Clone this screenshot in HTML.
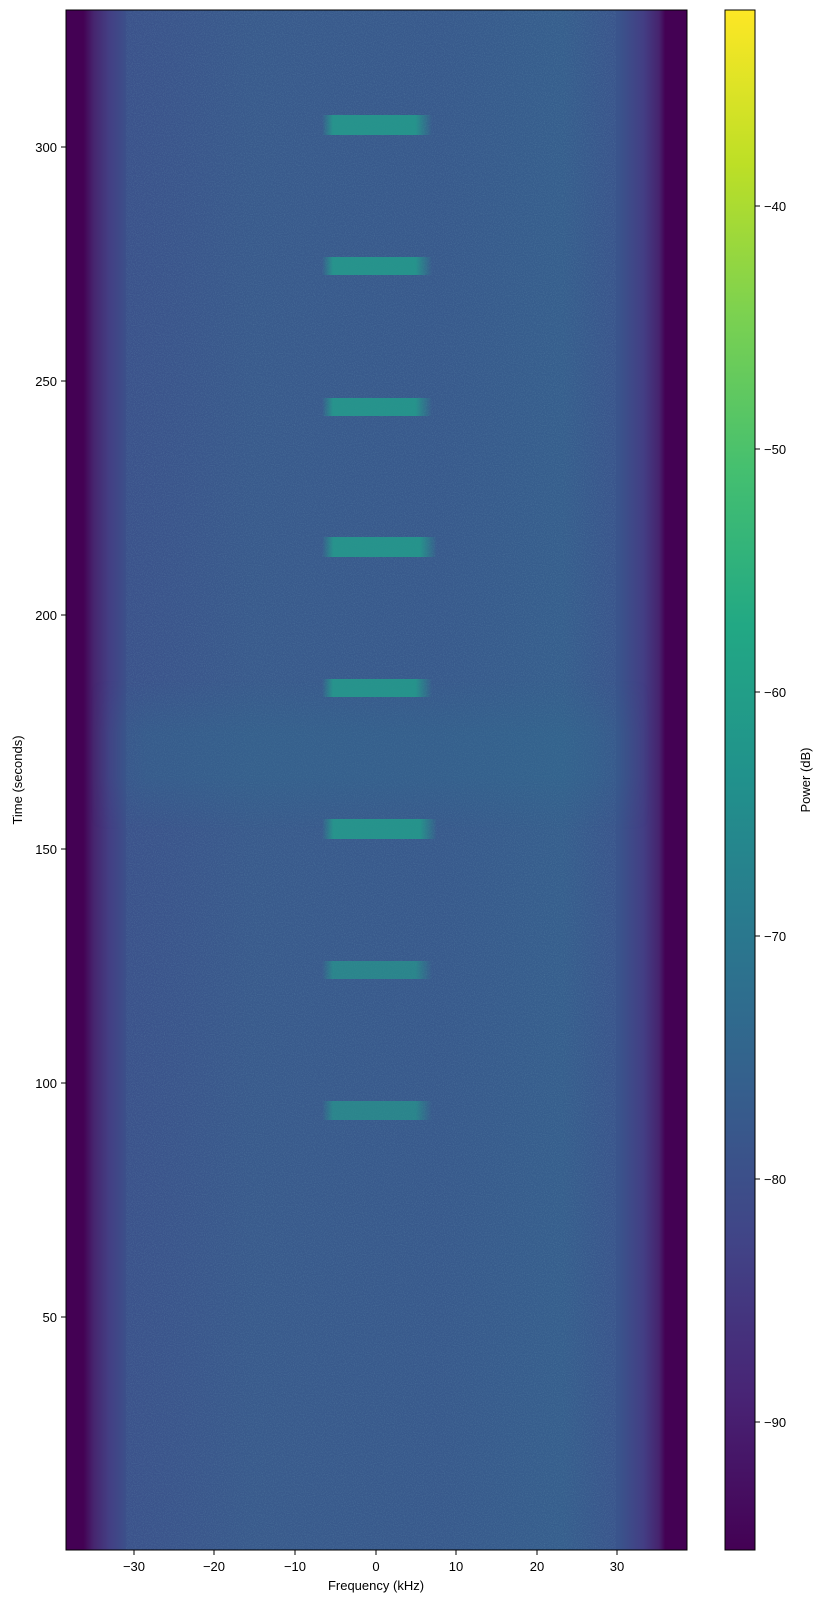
<!DOCTYPE html>
<html><head><meta charset="utf-8"><style>
body{margin:0;background:#fff;}
svg text{font-family:"Liberation Sans","DejaVu Sans",sans-serif;font-size:13px;fill:#000;}
</style></head><body>
<svg width="823" height="1603" viewBox="0 0 823 1603" xmlns="http://www.w3.org/2000/svg">
<defs>
<linearGradient id="bg" x1="66" x2="687" y1="0" y2="0" gradientUnits="userSpaceOnUse">
<stop offset="0" stop-color="#440154"/>
<stop offset="0.028" stop-color="#440154"/>
<stop offset="0.045" stop-color="#46266f"/>
<stop offset="0.07" stop-color="#433f84"/>
<stop offset="0.1" stop-color="#3b528b"/>
<stop offset="0.3" stop-color="#395a8c"/>
<stop offset="0.6" stop-color="#38598c"/>
<stop offset="0.8" stop-color="#365e8d"/>
<stop offset="0.89" stop-color="#3a548c"/>
<stop offset="0.93" stop-color="#433e84"/>
<stop offset="0.955" stop-color="#46236e"/>
<stop offset="0.965" stop-color="#440154"/>
<stop offset="1" stop-color="#440154"/>
</linearGradient>
<linearGradient id="burst" x1="0" x2="1" y1="0" y2="0">
<stop offset="0" stop-color="#25998c" stop-opacity="0"/>
<stop offset="0.1" stop-color="#25998c" stop-opacity="0.9"/>
<stop offset="0.85" stop-color="#24998b" stop-opacity="0.9"/>
<stop offset="1" stop-color="#25998c" stop-opacity="0"/>
</linearGradient>
<linearGradient id="band" x1="0" x2="0" y1="0" y2="1">
<stop offset="0" stop-color="#2f6e8e" stop-opacity="0"/>
<stop offset="0.35" stop-color="#2f6e8e" stop-opacity="0.3"/>
<stop offset="0.65" stop-color="#2f6e8e" stop-opacity="0.3"/>
<stop offset="1" stop-color="#2f6e8e" stop-opacity="0"/>
</linearGradient>
<linearGradient id="bandx" x1="0" x2="1" y1="0" y2="0">
<stop offset="0" stop-color="#fff" stop-opacity="0"/>
<stop offset="0.1" stop-color="#fff" stop-opacity="1"/>
<stop offset="0.9" stop-color="#fff" stop-opacity="1"/>
<stop offset="1" stop-color="#fff" stop-opacity="0"/>
</linearGradient>
<mask id="bm"><rect x="90" y="680" width="560" height="150" fill="url(#bandx)"/></mask>
<filter id="noise" x="0" y="0" width="100%" height="100%">
<feTurbulence type="fractalNoise" baseFrequency="0.9" numOctaves="2" seed="3"/>
<feColorMatrix type="matrix" values="0 0 0 0 0.2  0 0 0 0 0.45  0 0 0 0 0.55  0 0 0 1.2 -0.5"/>
</filter>
</defs>
<rect x="66" y="10" width="621" height="1540" fill="url(#bg)"/>
<rect x="126" y="10" width="490" height="1540" filter="url(#noise)" opacity="0.35"/>
<rect x="90" y="680" width="560" height="150" fill="url(#band)" mask="url(#bm)"/>
<g fill="url(#burst)">
<rect x="322" y="115" width="110" height="20"/>
<rect x="322" y="257" width="110" height="18"/>
<rect x="322" y="398" width="110" height="18"/>
<rect x="322" y="537" width="115" height="20"/>
<rect x="322" y="679" width="110" height="18"/>
<rect x="322" y="819" width="115" height="20"/>
<rect x="322" y="961" width="110" height="18" opacity="0.75"/>
<rect x="322" y="1101" width="110" height="19" opacity="0.75"/>
</g>
<rect x="66" y="10" width="621" height="1540" fill="none" stroke="#000" stroke-width="1"/>
<g stroke="#000" stroke-width="1">
<line x1="134" y1="1550" x2="134" y2="1555"/><line x1="214" y1="1550" x2="214" y2="1555"/>
<line x1="295" y1="1550" x2="295" y2="1555"/><line x1="376" y1="1550" x2="376" y2="1555"/>
<line x1="456" y1="1550" x2="456" y2="1555"/><line x1="537" y1="1550" x2="537" y2="1555"/>
<line x1="617" y1="1550" x2="617" y2="1555"/>
<line x1="61" y1="147" x2="66" y2="147"/><line x1="61" y1="381" x2="66" y2="381"/>
<line x1="61" y1="615" x2="66" y2="615"/><line x1="61" y1="849" x2="66" y2="849"/>
<line x1="61" y1="1083" x2="66" y2="1083"/><line x1="61" y1="1317" x2="66" y2="1317"/>
</g>
<g text-anchor="middle">
<text x="134" y="1571">−30</text><text x="214" y="1571">−20</text><text x="295" y="1571">−10</text>
<text x="376" y="1571">0</text><text x="456" y="1571">10</text><text x="537" y="1571">20</text>
<text x="617" y="1571">30</text>
<text x="376" y="1590">Frequency (kHz)</text>
</g>
<g text-anchor="end">
<text x="57" y="152">300</text><text x="57" y="386">250</text><text x="57" y="620">200</text>
<text x="57" y="854">150</text><text x="57" y="1088">100</text><text x="57" y="1322">50</text>
</g>
<text transform="translate(22,780) rotate(-90)" text-anchor="middle">Time (seconds)</text>
<rect x="725" y="10" width="30" height="1540" fill="url(#vir)" stroke="#000" stroke-width="1"/>
<defs><linearGradient id="vir" x1="0" x2="0" y1="1" y2="0">
<stop offset="0" stop-color="#440154"/><stop offset="0.1" stop-color="#482475"/>
<stop offset="0.2" stop-color="#414487"/><stop offset="0.3" stop-color="#355f8d"/>
<stop offset="0.4" stop-color="#2a788e"/><stop offset="0.5" stop-color="#21918c"/>
<stop offset="0.6" stop-color="#22a884"/><stop offset="0.7" stop-color="#44bf70"/>
<stop offset="0.8" stop-color="#7ad151"/><stop offset="0.9" stop-color="#bddf26"/>
<stop offset="1" stop-color="#fde725"/>
</linearGradient></defs>
<g stroke="#000"><line x1="755" y1="206" x2="760" y2="206"/><line x1="755" y1="449" x2="760" y2="449"/>
<line x1="755" y1="692" x2="760" y2="692"/><line x1="755" y1="936" x2="760" y2="936"/>
<line x1="755" y1="1179" x2="760" y2="1179"/><line x1="755" y1="1422" x2="760" y2="1422"/></g>
<text x="764" y="211">−40</text><text x="764" y="454">−50</text><text x="764" y="697">−60</text>
<text x="764" y="941">−70</text><text x="764" y="1184">−80</text><text x="764" y="1427">−90</text>
<text transform="translate(810,780) rotate(-90)" text-anchor="middle">Power (dB)</text>
</svg>
</body></html>
